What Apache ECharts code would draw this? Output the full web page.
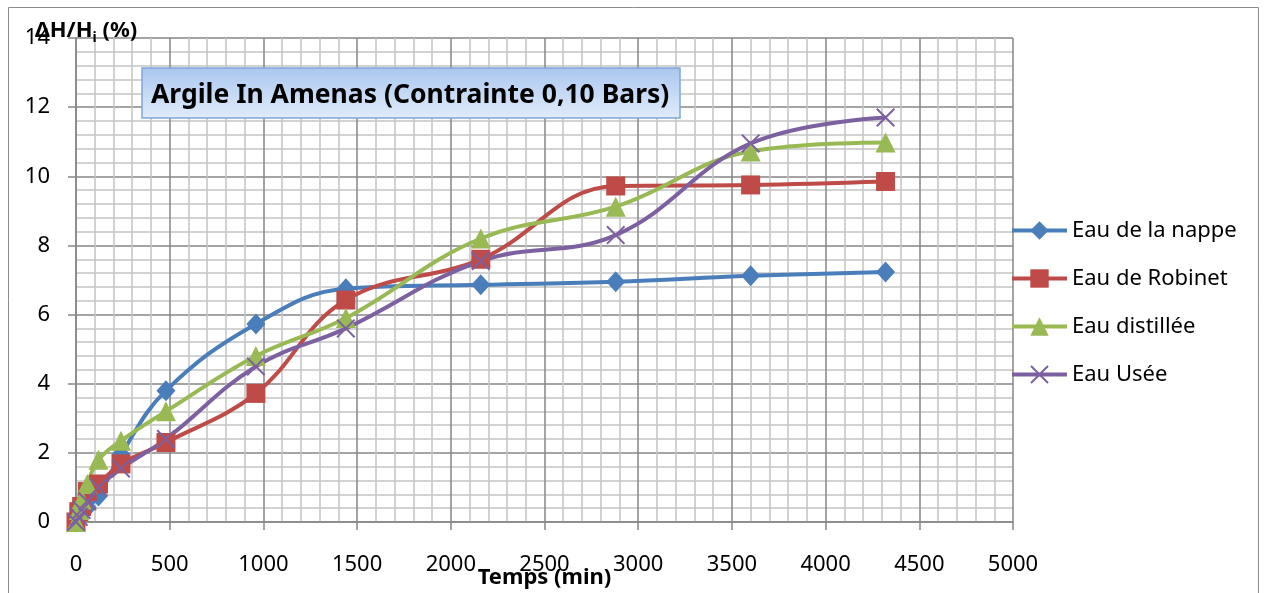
<!DOCTYPE html>
<html>
<head>
<meta charset="utf-8">
<script src="https://cdn.jsdelivr.net/npm/echarts@6/dist/echarts.min.js"></script>
<style>
  html, body { margin: 0; padding: 0; background: #ffffff; overflow: hidden; }
  #chart { width: 1267px; height: 593px; }
</style>
</head>
<body>
<div id="chart"></div>
<script>
// Elapsed time (min) and relative settlement ΔH/Hi (%) for each water type
const timeMin   = [0, 15, 30, 60, 120, 240, 480, 960, 1440, 2160, 2880, 3600, 4320];
const eauNappe  = [0, 0.12, 0.25, 0.42, 0.75, 1.95, 3.80, 5.73, 6.75, 6.86, 6.95, 7.12, 7.23];
const eauRobinet = [0, 0.30, 0.45, 0.88, 1.10, 1.68, 2.30, 3.72, 6.42, 7.60, 9.72, 9.75, 9.85];
const eauDistillee = [0, 0.35, 0.65, 1.10, 1.80, 2.35, 3.20, 4.80, 5.90, 8.20, 9.12, 10.72, 10.98];
const eauUsee   = [0, 0.15, 0.35, 0.60, 1.00, 1.55, 2.40, 4.50, 5.60, 7.55, 8.30, 10.95, 11.70];

const seriesNames = ['Eau de la nappe', 'Eau de Robinet', 'Eau distillée', 'Eau Usée'];
const seriesValues = [eauNappe, eauRobinet, eauDistillee, eauUsee];
const seriesColors = ['#4a7ebb', '#be4b48', '#98b954', '#7d60a0'];

const chartTitle = 'Argile In Amenas (Contrainte 0,10 Bars)';
const xAxisTitle = 'Temps (min)';

const FONT = "'Noto Sans', 'Open Sans', sans-serif";

// thin cross marker
const crossPath = 'path://M0,1.5L1.5,0L10,8.5L18.5,0L20,1.5L11.5,10L20,18.5L18.5,20L10,11.5L1.5,20L0,18.5L8.5,10Z';
const symbols = ['diamond', 'rect', 'triangle', crossPath];
const symbolSizes = [[19, 21], 19, 20, 19];

const pairs = vals => timeMin.map((t, i) => [t, vals[i]]);

const chart = echarts.init(document.getElementById('chart'), null, {
  renderer: 'canvas', width: 1267, height: 593
});

const axisGray = '#868686';
const minorGray = '#c4c4c4';

chart.setOption({
  animation: false,
  backgroundColor: '#ffffff',
  grid: { left: 76, right: 254, top: 38, bottom: 71, containLabel: false, outerBoundsMode: 'none' },
  legend: {
    orient: 'vertical',
    left: 1005,
    top: 214,
    itemWidth: 55,
    itemHeight: 23,
    itemGap: 25,
    lineStyle: { width: 4 },
    textStyle: { fontFamily: FONT, fontSize: 22, color: '#000000', lineHeight: 23 },
    data: seriesNames
  },
  xAxis: {
    type: 'value',
    min: 0,
    max: 5000,
    interval: 500,
    name: xAxisTitle,
    nameLocation: 'middle',
    nameGap: 45,
    nameMoveOverlap: false,
    nameTextStyle: { fontFamily: FONT, fontSize: 22, fontWeight: 'bold', color: '#000000' },
    axisLine: { show: true, lineStyle: { color: axisGray, width: 1.5 } },
    axisTick: { show: true, length: 8, lineStyle: { color: axisGray, width: 1.5 } },
    axisLabel: { fontFamily: FONT, fontSize: 22, color: '#000000', margin: 32, formatter: v => String(v) },
    splitLine: { show: true, lineStyle: { color: axisGray, width: 1.5 } },
    minorTick: { show: false, splitNumber: 5 },
    minorSplitLine: { show: true, lineStyle: { color: minorGray, width: 1.5 } }
  },
  yAxis: {
    type: 'value',
    min: 0,
    max: 14,
    interval: 2,
    axisLine: { show: true, lineStyle: { color: axisGray, width: 1.5 } },
    axisTick: { show: true, length: 8, lineStyle: { color: axisGray, width: 1.5 } },
    axisLabel: { fontFamily: FONT, fontSize: 22, color: '#000000', margin: 26, formatter: v => String(v) },
    splitLine: { show: true, lineStyle: { color: axisGray, width: 1.5 } },
    minorTick: { show: false, splitNumber: 5 },
    minorSplitLine: { show: true, lineStyle: { color: minorGray, width: 1.5 } }
  },
  series: seriesNames.map((name, i) => ({
    name,
    type: 'line',
    data: pairs(seriesValues[i]),
    smooth: 0.4,
    symbol: symbols[i],
    symbolSize: symbolSizes[i],
    showAllSymbol: true,
    lineStyle: { color: seriesColors[i], width: 4 },
    itemStyle: { color: seriesColors[i], borderWidth: 0 },
    emphasis: { disabled: true }
  })),
  graphic: [
    {
      type: 'rect',
      silent: true,
      shape: { x: 8.5, y: 7.5, width: 1250, height: 620 },
      style: { fill: 'none', stroke: '#8c8c8c', lineWidth: 1 },
      z: 0
    },
    {
      type: 'rect',
      silent: true,
      shape: { x: 142, y: 68, width: 538, height: 50 },
      style: {
        fill: new echarts.graphic.LinearGradient(0, 0, 0, 1, [
          { offset: 0, color: '#a9c6ef' },
          { offset: 0.5, color: '#c5d9f4' },
          { offset: 1, color: '#e2ecfa' }
        ]),
        stroke: '#7fa6da',
        lineWidth: 1.5
      },
      z: 50
    },
    {
      type: 'text',
      silent: true,
      left: 151,
      top: 82,
      style: {
        text: chartTitle,
        fontFamily: FONT,
        fontSize: 26.5,
        fontWeight: 'bold',
        fill: '#000000'
      },
      z: 51
    },
    {
      type: 'text',
      silent: true,
      left: 35,
      top: 20,
      style: {
        text: '{a|ΔH/H}{s|i}{a| (%)}',
        rich: {
          a: { fontFamily: FONT, fontSize: 22, fontWeight: 'bold', fill: '#000000', verticalAlign: 'bottom' },
          s: { fontFamily: FONT, fontSize: 14, fontWeight: 'bold', fill: '#000000', verticalAlign: 'bottom', padding: [0, 0, -3, 0] }
        }
      },
      z: 51
    }
  ]
});
</script>
</body>
</html>
